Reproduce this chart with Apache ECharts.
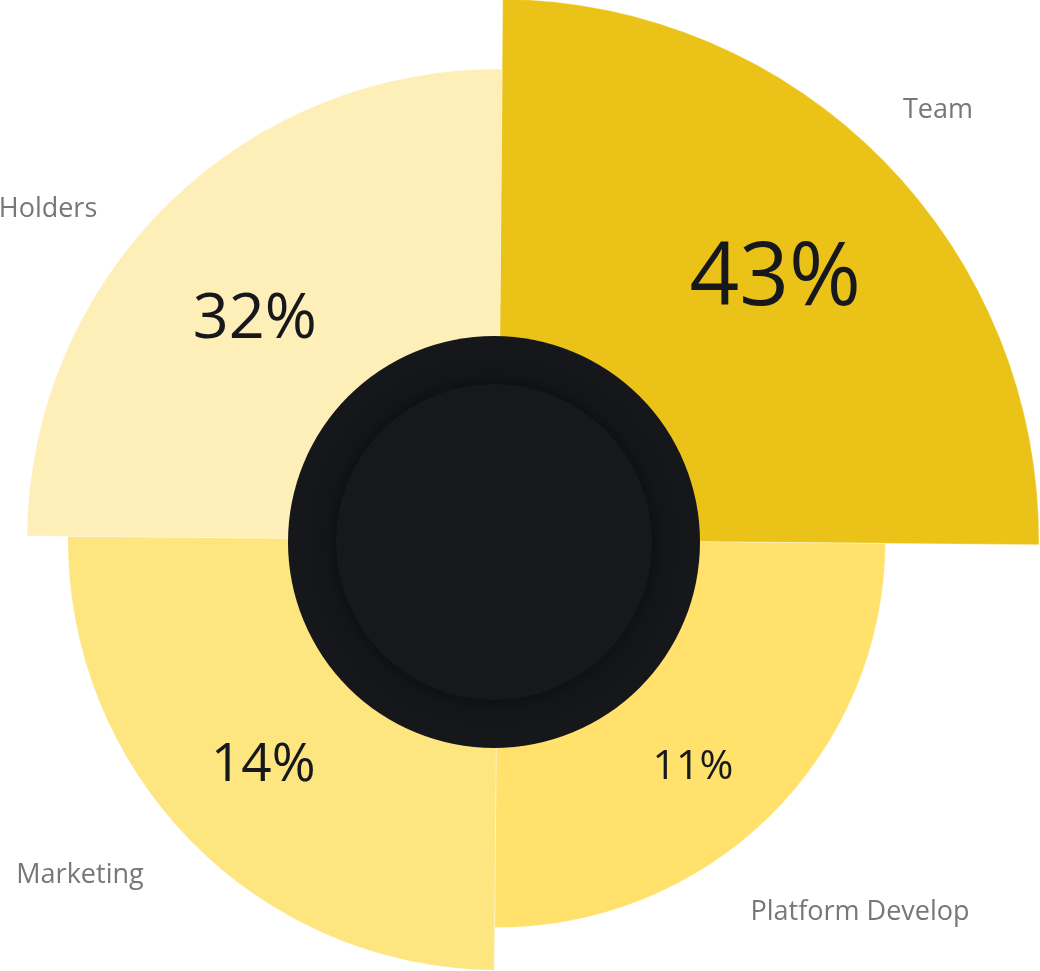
<!DOCTYPE html>
<html lang="en">
<head>
    <meta charset="utf-8">
    <title>Token Allocation</title>
    <script src="https://cdn.jsdelivr.net/npm/echarts@6.0.0/dist/echarts.min.js"></script>
    <style>
        html, body { margin: 0; padding: 0; background: #ffffff; }
        #chart { width: 1040px; height: 971px; }
    </style>
</head>
<body>
    <div id="chart"></div>
    <script>
        // Allocation data
        const categories = ['Team', 'Platform Develop', 'Marketing', 'Holders'];
        const shareLabels = ['43%', '11%', '14%', '32%'];
        // relative petal length of each rose sector
        const roseValues = [100, 55, 67.5, 79.5];

        const sliceColors = ['#ebc318', '#ffe16b', '#fde57f', '#feefb8'];
        const shareFontSizes = [87, 41, 53, 63];
        const shareOffsets = [[13, 0], [-11, 18], [-10, 5], [-8, 19]];
        // name label centres (px)
        const nameSpots = [[938, 110], [860, 912], [80, 875], [48, 209]];

        const chart = echarts.init(document.getElementById('chart'));
        const font = '"Open Sans", "Noto Sans", sans-serif';

        chart.setOption({
            animation: false,
            polar: {
                center: [498, 540],
                radius: [200, 541]
            },
            angleAxis: {
                type: 'category',
                data: categories,
                startAngle: 89.5,
                clockwise: true,
                boundaryGap: true,
                show: false
            },
            radiusAxis: {
                type: 'value',
                min: 0,
                max: 100,
                show: false
            },
            series: [
                {
                    // rose petals with percentage labels
                    type: 'bar',
                    coordinateSystem: 'polar',
                    barCategoryGap: '0%',
                    silent: true,
                    z: 1,
                    itemStyle: {
                        borderColor: 'rgba(255,255,255,0.35)',
                        borderWidth: 1
                    },
                    label: {
                        show: true,
                        position: 'middle',
                        rotate: 0,
                        color: '#17181c',
                        fontFamily: font,
                        formatter: function (p) { return shareLabels[p.dataIndex]; }
                    },
                    data: roseValues.map(function (v, i) {
                        return {
                            value: v,
                            itemStyle: { color: sliceColors[i] },
                            label: { fontSize: shareFontSizes[i], offset: shareOffsets[i] }
                        };
                    })
                },
                {
                    // outer dark disc
                    type: 'pie',
                    center: [494, 542],
                    radius: [0, 206],
                    silent: true,
                    z: 3,
                    label: { show: false },
                    labelLine: { show: false },
                    itemStyle: { color: '#16171b' },
                    data: [{ value: 1 }]
                },
                {
                    // inner dark disc with soft shadow
                    type: 'pie',
                    center: [494, 542],
                    radius: [0, 158],
                    silent: true,
                    z: 4,
                    label: { show: false },
                    labelLine: { show: false },
                    itemStyle: {
                        color: '#17181c',
                        shadowBlur: 24,
                        shadowColor: 'rgba(0,0,0,0.55)'
                    },
                    data: [{ value: 1 }]
                },
                {
                    // category names around the rose
                    type: 'pie',
                    center: [498, 540],
                    radius: [0, 10],
                    silent: true,
                    z: 0,
                    avoidLabelOverlap: false,
                    itemStyle: { color: 'rgba(0,0,0,0)' },
                    label: {
                        position: 'outside',
                        color: '#777777',
                        fontSize: 27,
                        fontFamily: font
                    },
                    labelLine: { show: false },
                    labelLayout: function (p) {
                        const spot = nameSpots[p.dataIndex];
                        return { x: spot[0], y: spot[1], align: 'center', verticalAlign: 'middle' };
                    },
                    data: categories.map(function (name) {
                        return { name: name, value: 1 };
                    })
                }
            ]
        });
    </script>
</body>
</html>
